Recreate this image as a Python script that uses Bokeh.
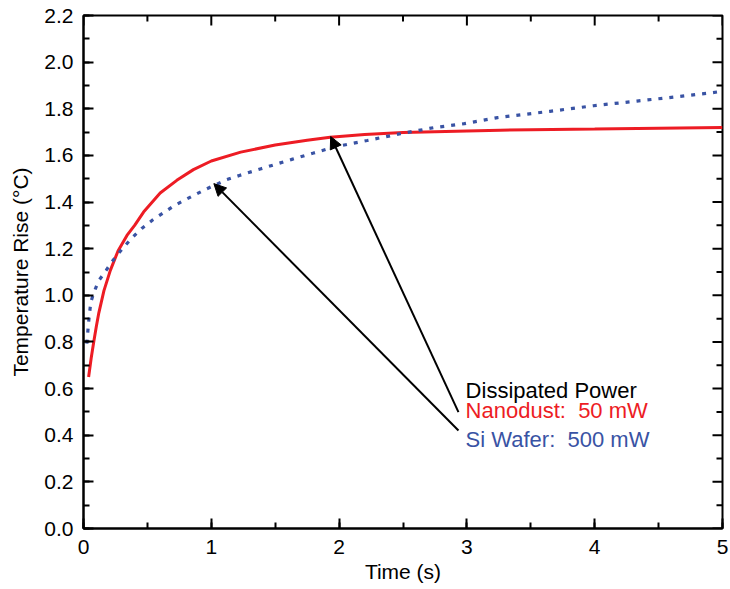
from bokeh.plotting import figure
from bokeh.models import Range1d, SingleIntervalTicker, Arrow, NormalHead, Label, PrintfTickFormatter
from bokeh.embed import file_html
from bokeh.resources import INLINE

# Nanodust (50 mW) curve
nano_t = [0.04, 0.06, 0.08, 0.1, 0.12, 0.16, 0.21, 0.27, 0.34, 0.4, 0.47, 0.6, 0.73, 0.86, 1.0, 1.23,
          1.5, 1.75, 1.93, 2.2, 2.5, 3.0, 3.26, 3.5, 4.0, 4.5, 5.0]
nano_v = [0.65, 0.73, 0.80, 0.865, 0.925, 1.02, 1.107, 1.19, 1.257, 1.30, 1.357, 1.439, 1.493, 1.539, 1.576, 1.614,
          1.645, 1.665, 1.678, 1.69, 1.698, 1.705, 1.708, 1.71, 1.713, 1.717, 1.72]

# Si wafer (500 mW) curve
si_t = [0.026, 0.039, 0.057, 0.083, 0.117, 0.177, 0.235, 0.30, 0.378, 0.456, 0.543, 0.626, 0.709, 0.796, 0.882, 0.965,
        1.12, 1.22, 1.39, 1.63, 1.80, 1.96, 2.22, 2.48, 2.74, 2.98, 3.24, 3.65, 3.99, 4.33, 4.67, 4.92, 5.0]
si_v = [0.793, 0.879, 0.971, 1.014, 1.061, 1.107, 1.153, 1.197, 1.246, 1.287, 1.324, 1.354, 1.384, 1.41, 1.434, 1.457,
        1.496, 1.514, 1.543, 1.583, 1.61, 1.636, 1.664, 1.693, 1.719, 1.736, 1.762, 1.789, 1.813, 1.833, 1.853, 1.869, 1.875]

# tick positions for the mirrored (top / right) ticks
x_major = [0, 1, 2, 3, 4, 5]
x_minor = [0.5, 1.5, 2.5, 3.5, 4.5]
y_major = [0.0, 0.2, 0.4, 0.6, 0.8, 1.0, 1.2, 1.4, 1.6, 1.8, 2.0, 2.2]
y_minor = [0.1, 0.3, 0.5, 0.7, 0.9, 1.1, 1.3, 1.5, 1.7, 1.9, 2.1]

legend_title = "Dissipated Power"
legend_labels = ["Nanodust:\u00a0 50 mW", "Si Wafer:\u00a0 500 mW"]
RED = "#ed1c24"
BLUE = "#3953a4"
FONT = "Liberation Sans"
X0, X1, Y0, Y1 = 0, 5, 0, 2.2

p = figure(frame_width=639, frame_height=513, min_border_left=83, min_border_top=15,
           min_border_right=8, min_border_bottom=40,
           x_range=Range1d(X0, X1), y_range=Range1d(Y0, Y1),
           output_backend="svg", toolbar_location=None,
           x_axis_label="Time (s)", y_axis_label="Temperature Rise (°C)")
p.xgrid.visible = False
p.ygrid.visible = False
p.outline_line_color = "black"
p.outline_line_width = 2
p.background_fill_color = "white"
p.border_fill_color = "white"

p.xaxis.ticker = SingleIntervalTicker(interval=1, num_minor_ticks=2)
p.yaxis.ticker = SingleIntervalTicker(interval=0.2, num_minor_ticks=2)
p.yaxis.formatter = PrintfTickFormatter(format="%.1f")

for ax in (p.xaxis[0], p.yaxis[0]):
    ax.axis_line_width = 2
    ax.axis_line_color = "black"
    ax.major_tick_in = 10
    ax.major_tick_out = 0
    ax.minor_tick_in = 6
    ax.minor_tick_out = 0
    ax.major_tick_line_width = 2
    ax.minor_tick_line_width = 2
    ax.major_tick_line_color = "black"
    ax.minor_tick_line_color = "black"
    ax.major_label_text_font = FONT
    ax.major_label_text_font_size = "21px"
    ax.major_label_text_color = "black"
    ax.axis_label_text_font = FONT
    ax.axis_label_text_font_size = "21px"
    ax.axis_label_text_font_style = "normal"
    ax.axis_label_text_color = "black"

p.xaxis.major_label_standoff = 11
p.xaxis.axis_label_standoff = 3
p.yaxis.major_label_standoff = 10
p.yaxis.axis_label_standoff = 9

# mirrored ticks on top and right edges (markers centred on edge; outer half clipped)
p.scatter(x_major, [Y1] * len(x_major), marker="dash", size=20, angle=1.5708,
          line_color="black", line_width=2)
p.scatter(x_minor, [Y1] * len(x_minor), marker="dash", size=12, angle=1.5708,
          line_color="black", line_width=2)
p.scatter([X1] * len(y_major), y_major, marker="dash", size=20,
          line_color="black", line_width=2)
p.scatter([X1] * len(y_minor), y_minor, marker="dash", size=12,
          line_color="black", line_width=2)

p.line(nano_t, nano_v, line_color=RED, line_width=3)
p.line(si_t, si_v, line_color=BLUE, line_width=3.2, line_dash="4 7")

# arrows
arrow_start_x = [2.934, 2.934]
arrow_start_y = [0.499, 0.42]
arrow_end_x = [1.934, 1.02]
arrow_end_y = [1.681, 1.479]
for xs, ys, xe, ye in zip(arrow_start_x, arrow_start_y, arrow_end_x, arrow_end_y):
    p.add_layout(Arrow(end=NormalHead(size=12, fill_color="black", line_color="black", line_width=1),
                       x_start=xs, y_start=ys, x_end=xe, y_end=ye,
                       line_color="black", line_width=2))

p.add_layout(Label(x=2.99, y=0.593, text=legend_title, text_font=FONT, text_font_size="22px",
                   text_color="black", text_baseline="alphabetic"))
p.add_layout(Label(x=2.99, y=0.505, text=legend_labels[0], text_font=FONT, text_font_size="22px",
                   text_color=RED, text_baseline="alphabetic"))
p.add_layout(Label(x=2.99, y=0.383, text=legend_labels[1], text_font=FONT, text_font_size="22px",
                   text_color=BLUE, text_baseline="alphabetic"))

open("out.html", "w").write(file_html(p, INLINE))
